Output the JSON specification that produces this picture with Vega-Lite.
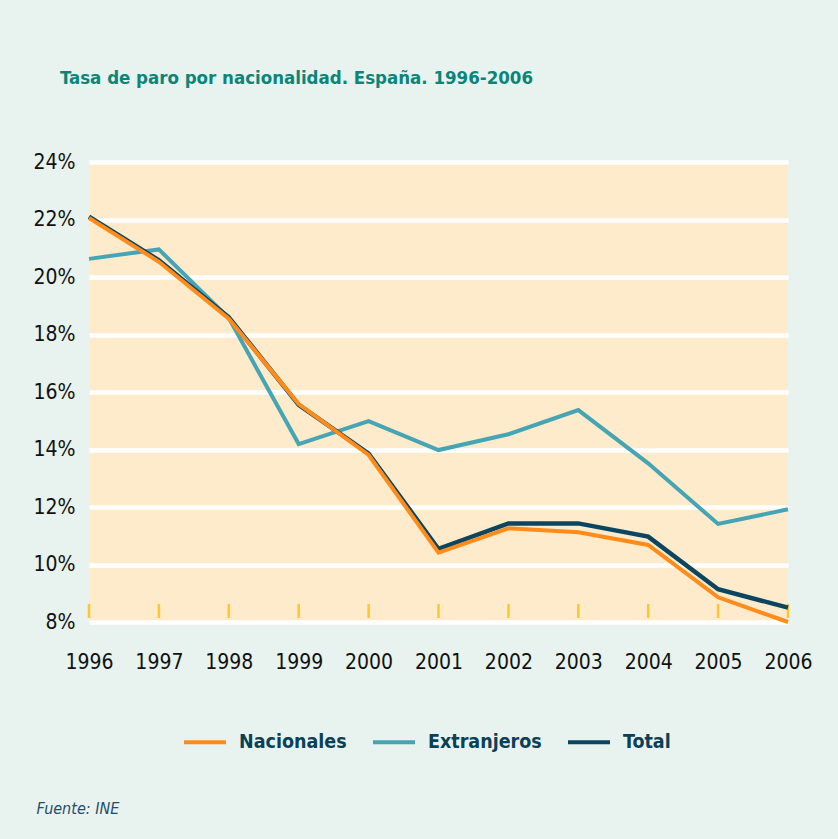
{
  "$schema": "https://vega.github.io/schema/vega-lite/v6.json",
  "width": 699,
  "height": 460,
  "autosize": {"type": "none"},
  "padding": {"left": 89, "top": 162, "right": 50, "bottom": 217},
  "background": "#E8F2EE",
  "title": {
    "text": "Tasa de paro por nacionalidad. España. 1996-2006",
    "anchor": "start",
    "frame": "group",
    "dx": -29,
    "offset": 64,
    "font": "DejaVu Sans Condensed, Liberation Sans, sans-serif",
    "fontSize": 18.5,
    "fontWeight": "bold",
    "color": "#0A857A"
  },
  "config": {
    "view": {"fill": "#FDEBCC", "stroke": null},
    "font": "DejaVu Sans Condensed, Liberation Sans, sans-serif"
  },
  "data": {
    "values": [
      {"year": 1996, "series": "Nacionales", "rate": 22.05},
      {"year": 1997, "series": "Nacionales", "rate": 20.53},
      {"year": 1998, "series": "Nacionales", "rate": 18.55},
      {"year": 1999, "series": "Nacionales", "rate": 15.58},
      {"year": 2000, "series": "Nacionales", "rate": 13.81},
      {"year": 2001, "series": "Nacionales", "rate": 10.41},
      {"year": 2002, "series": "Nacionales", "rate": 11.26},
      {"year": 2003, "series": "Nacionales", "rate": 11.12},
      {"year": 2004, "series": "Nacionales", "rate": 10.68},
      {"year": 2005, "series": "Nacionales", "rate": 8.86},
      {"year": 2006, "series": "Nacionales", "rate": 8.0},
      {"year": 1996, "series": "Extranjeros", "rate": 20.63},
      {"year": 1997, "series": "Extranjeros", "rate": 20.96},
      {"year": 1998, "series": "Extranjeros", "rate": 18.57},
      {"year": 1999, "series": "Extranjeros", "rate": 14.19},
      {"year": 2000, "series": "Extranjeros", "rate": 14.99},
      {"year": 2001, "series": "Extranjeros", "rate": 13.98},
      {"year": 2002, "series": "Extranjeros", "rate": 14.53},
      {"year": 2003, "series": "Extranjeros", "rate": 15.37},
      {"year": 2004, "series": "Extranjeros", "rate": 13.52},
      {"year": 2005, "series": "Extranjeros", "rate": 11.41},
      {"year": 2006, "series": "Extranjeros", "rate": 11.92},
      {"year": 1996, "series": "Total", "rate": 22.1},
      {"year": 1997, "series": "Total", "rate": 20.58},
      {"year": 1998, "series": "Total", "rate": 18.6},
      {"year": 1999, "series": "Total", "rate": 15.55},
      {"year": 2000, "series": "Total", "rate": 13.86},
      {"year": 2001, "series": "Total", "rate": 10.54},
      {"year": 2002, "series": "Total", "rate": 11.43},
      {"year": 2003, "series": "Total", "rate": 11.43},
      {"year": 2004, "series": "Total", "rate": 10.97},
      {"year": 2005, "series": "Total", "rate": 9.14},
      {"year": 2006, "series": "Total", "rate": 8.5}
    ]
  },
  "encoding": {
    "x": {
      "field": "year",
      "type": "quantitative",
      "scale": {"domain": [1996, 2006], "nice": false, "zero": false},
      "axis": {
        "values": [1996, 1997, 1998, 1999, 2000, 2001, 2002, 2003, 2004, 2005, 2006],
        "format": "d",
        "ticks": false,
        "domain": false,
        "grid": false,
        "labelFlush": false,
        "labelOverlap": false,
        "labelBound": false,
        "labelFontSize": 21,
        "labelColor": "#111111",
        "labelPadding": 29,
        "title": "Fuente:  INE",
        "titleX": -53,
        "titleY": 186,
        "titleAlign": "left",
        "titleBaseline": "middle",
        "titleFontStyle": "italic",
        "titleFontWeight": "normal",
        "titleFontSize": 16,
        "titleColor": "#1F4E6E"
      }
    }
  },
  "layer": [
    {
      "transform": [{"filter": "datum.series === 'Total'"}],
      "mark": {"type": "rule", "color": "#FFC72C", "strokeWidth": 2.5},
      "encoding": {
        "y": {"datum": 8.14},
        "y2": {"datum": 8.63}
      }
    },
    {
      "transform": [{"filter": "datum.series === 'Extranjeros'"}],
      "mark": {"type": "line", "strokeWidth": 4},
      "encoding": {
        "y": {
          "field": "rate", "type": "quantitative",
          "scale": {"domain": [8, 24], "nice": false, "zero": false},
          "axis": {
            "values": [8, 10, 12, 14, 16, 18, 20, 22, 24],
            "labelExpr": "datum.value + '%'",
            "ticks": false, "domain": false, "grid": true,
            "gridColor": "#FFFFFF", "gridWidth": 4.5, "gridOpacity": 1,
            "labelFontSize": 21, "labelPadding": 14, "labelColor": "#111111",
            "title": null
          }
        },
        "color": {
          "field": "series", "type": "nominal",
          "scale": {"domain": ["Nacionales", "Extranjeros", "Total"], "range": ["#FF8C1A", "#46A5B4", "#0B4560"]},
          "legend": {
            "orient": "none", "legendX": 93, "legendY": 557, "direction": "horizontal", "title": null,
            "symbolType": "stroke", "symbolSize": 1764, "symbolStrokeWidth": 4,
            "labelFontSize": 19.5, "labelFontWeight": "bold",
            "labelColor": "#0B4157", "columnPadding": 18, "labelOffset": 11
          }
        }
      }
    },
    {
      "transform": [{"filter": "datum.series === 'Total'"}],
      "mark": {"type": "line", "strokeWidth": 4.5},
      "encoding": {
        "y": {"field": "rate", "type": "quantitative"},
        "color": {"field": "series", "type": "nominal"}
      }
    },
    {
      "transform": [{"filter": "datum.series === 'Nacionales'"}],
      "mark": {"type": "line", "strokeWidth": 4},
      "encoding": {
        "y": {"field": "rate", "type": "quantitative"},
        "color": {"field": "series", "type": "nominal"}
      }
    }
  ]
}
